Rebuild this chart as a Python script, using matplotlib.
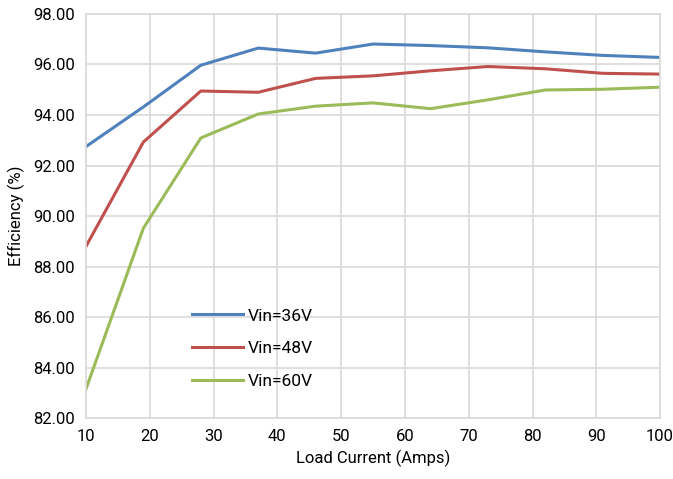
import matplotlib
matplotlib.use('Agg')
import matplotlib.pyplot as plt
from matplotlib import font_manager

names = {f.name for f in font_manager.fontManager.ttflist}
fam = 'Liberation Sans Narrow' if 'Liberation Sans Narrow' in names else 'Roboto'
plt.rcParams['font.family'] = [fam, 'DejaVu Sans']

load = [10, 19, 28, 37, 46, 55, 64, 73, 82, 91, 100]
vin36 = [92.75, 94.32, 95.97, 96.65, 96.45, 96.81, 96.75, 96.66, 96.50, 96.36, 96.28]
vin48 = [88.80, 92.93, 94.95, 94.90, 95.45, 95.55, 95.75, 95.92, 95.83, 95.65, 95.62]
vin60 = [83.15, 89.52, 93.09, 94.04, 94.35, 94.48, 94.25, 94.60, 94.99, 95.02, 95.10]

fig = plt.figure(figsize=(6.73, 4.79), dpi=100)
ax = fig.add_axes([0.1278, 0.1273, 0.853, 0.8435])

ax.plot(load, vin36, color='#4f81bd', lw=2.2, label='Vin=36V')
ax.plot(load, vin48, color='#c0504d', lw=2.2, label='Vin=48V')
ax.plot(load, vin60, color='#9bbb59', lw=2.2, label='Vin=60V')

ax.set_xlim(10, 100)
ax.set_ylim(82, 98)
ax.set_xticks(range(10, 101, 10))
ax.set_yticks(range(82, 99, 2))
ax.set_yticklabels(['%.2f' % v for v in range(82, 99, 2)])
ax.grid(True, color='#d9d9d9', lw=1.2)
ax.set_axisbelow(True)
for s in ax.spines.values():
    s.set_color('#d9d9d9')
    s.set_linewidth(1.2)
ax.tick_params(length=0, labelsize=12, pad=8)

ax.set_xlabel('Load Current (Amps)', fontsize=12, labelpad=4)
ax.set_ylabel('Efficiency (%)', fontsize=12, labelpad=6)

ax.legend(loc='upper left', bbox_to_anchor=(0.158, 0.31), frameon=False,
          fontsize=12.5, labelspacing=1.0, handlelength=2.9, handletextpad=0.3)

fig.savefig('out.png', dpi=100)
